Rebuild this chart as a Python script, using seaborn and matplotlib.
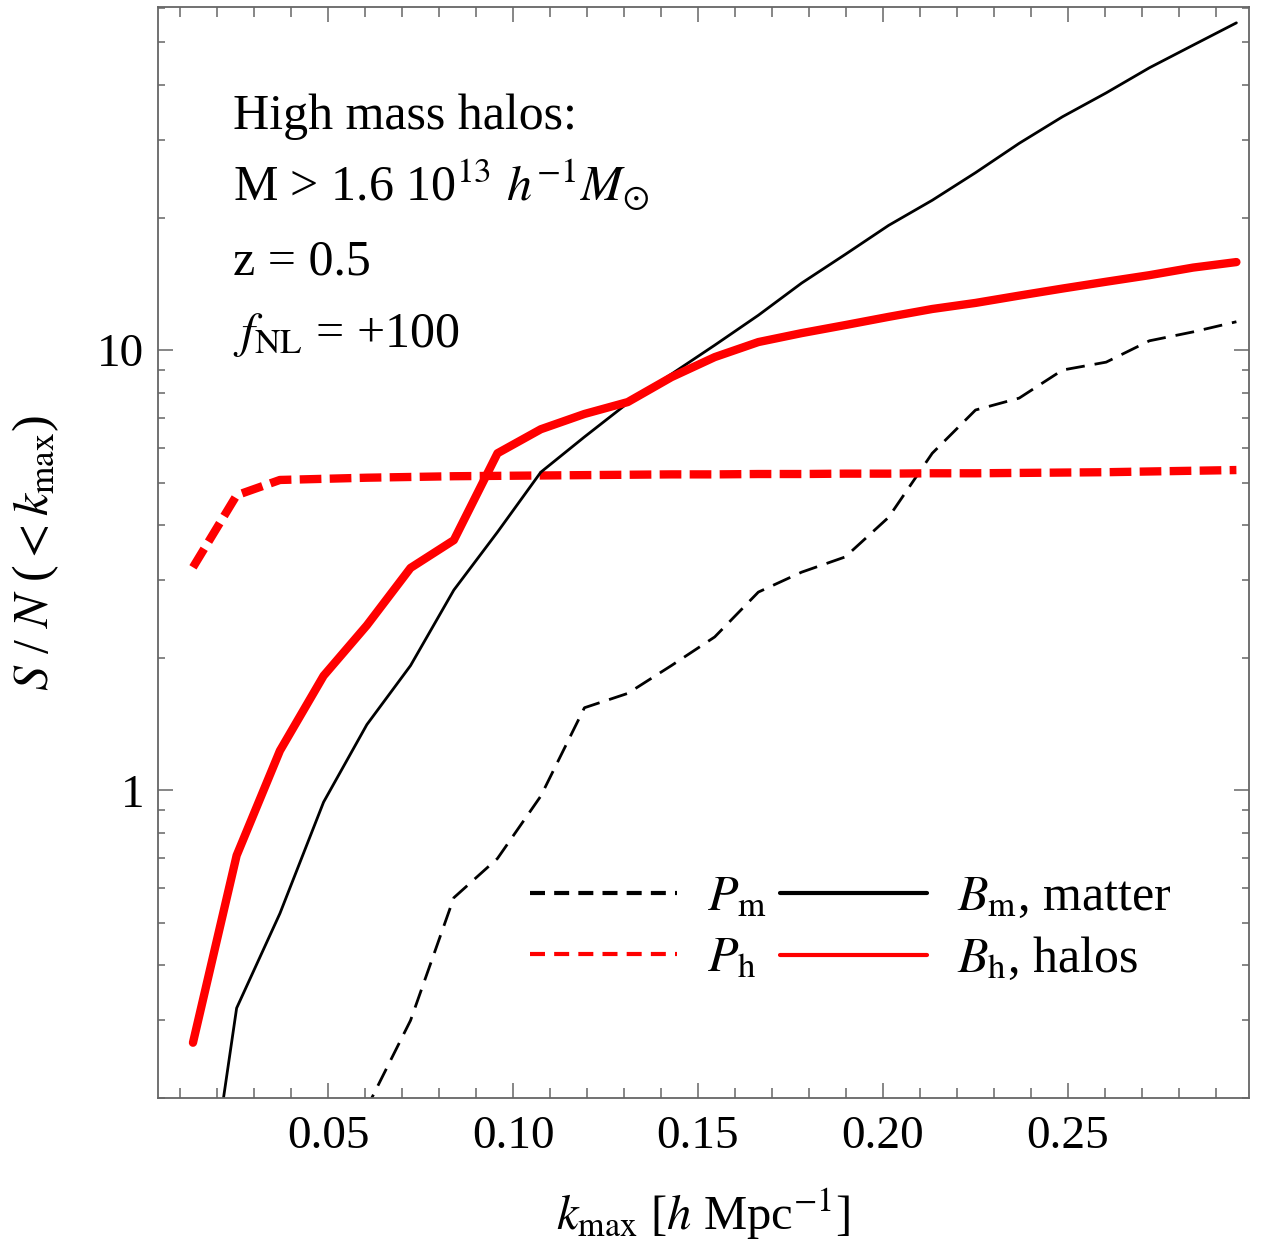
import matplotlib
matplotlib.use("Agg")
import matplotlib.pyplot as plt
import matplotlib.ticker as mticker
import numpy as np
import pandas as pd
import seaborn as sns

# k_max grid and S/N curves
k_max = [0.0135, 0.0253, 0.0370, 0.0488, 0.0605, 0.0723, 0.0840, 0.0958, 0.1075,
         0.1193, 0.1310, 0.1428, 0.1545, 0.1663, 0.1780, 0.1898, 0.2015, 0.2133,
         0.2250, 0.2368, 0.2485, 0.2603, 0.2720, 0.2838, 0.2955]
sn_Pm = [0.02, 0.04, 0.07, 0.11, 0.19, 0.30, 0.57, 0.70, 0.97, 1.54, 1.66, 1.92,
         2.23, 2.82, 3.13, 3.39, 4.17, 5.83, 7.31, 7.78, 9.01, 9.39, 10.5, 11.0, 11.6]
sn_Bm = [0.067, 0.32, 0.525, 0.94, 1.41, 1.92, 2.85, 3.86, 5.28, 6.35, 7.58, 8.82,
         10.26, 12.0, 14.2, 16.5, 19.2, 21.9, 25.3, 29.5, 33.9, 38.4, 43.8, 49.3, 55.4]
sn_Ph = [3.21, 4.68, 5.07, 5.10, 5.13, 5.15, 5.17, 5.18, 5.19, 5.20, 5.21, 5.22,
         5.22, 5.23, 5.23, 5.24, 5.24, 5.25, 5.25, 5.26, 5.27, 5.28, 5.30, 5.32, 5.34]
sn_Bh = [0.267, 0.711, 1.23, 1.82, 2.37, 3.20, 3.70, 5.83, 6.61, 7.16, 7.62, 8.68,
         9.64, 10.43, 10.93, 11.4, 11.9, 12.4, 12.8, 13.3, 13.8, 14.3, 14.8, 15.4, 15.85]

sns.set_style("ticks")
plt.rcParams['font.family'] = ['Liberation Serif', 'DejaVu Serif']
plt.rcParams['mathtext.fontset'] = 'stix'
plt.rcParams['text.color'] = 'black'
plt.rcParams['axes.labelcolor'] = 'black'
plt.rcParams['xtick.labelcolor'] = 'black'
plt.rcParams['ytick.labelcolor'] = 'black'

fig = plt.figure(figsize=(12.63, 12.43), dpi=100)
ax = fig.add_axes([0.1251, 0.1167, 0.8638, 0.8777])

df = pd.DataFrame({'k': k_max, 'Pm': sn_Pm, 'Bm': sn_Bm, 'Ph': sn_Ph, 'Bh': sn_Bh})

sns.lineplot(data=df, x='k', y='Pm', ax=ax, color='black', lw=2.0,
             label=r'$P_{\rm m}$')
sns.lineplot(data=df, x='k', y='Ph', ax=ax, color='#ff0000', lw=6.0,
             label=r'$P_{\rm h}$')
sns.lineplot(data=df, x='k', y='Bm', ax=ax, color='black', lw=2.0,
             label=r'$B_{\rm m}$, matter')
sns.lineplot(data=df, x='k', y='Bh', ax=ax, color='#ff0000', lw=6.0,
             label=r'$B_{\rm h}$, halos')
lines = ax.get_lines()
lines[0].set_dashes([6.8, 3.6])
lines[1].set_dashes([2.6, 1.0])

ax.set_yscale('log')
ax.set_xlim(0.00405, 0.2989)
ax.set_ylim(0.2, 60.2)

ax.xaxis.set_major_locator(mticker.MultipleLocator(0.05))
ax.xaxis.set_minor_locator(mticker.MultipleLocator(0.01))
ax.xaxis.set_major_formatter(mticker.FormatStrFormatter('%.2f'))
ax.yaxis.set_major_locator(mticker.FixedLocator([1, 10]))
ax.yaxis.set_major_formatter(mticker.FixedFormatter(['1', '10']))
ax.yaxis.set_minor_locator(mticker.LogLocator(base=10, subs=np.arange(2, 10)))
ax.yaxis.set_minor_formatter(mticker.NullFormatter())

gray = '#666666'
for s in ax.spines.values():
    s.set_color(gray)
    s.set_linewidth(1.3)
ax.tick_params(which='both', direction='in', top=True, right=True, color=gray,
               labelsize=34, width=1.1)
ax.tick_params(axis='x', which='major', length=11, pad=13)
ax.tick_params(axis='x', which='minor', length=7)
ax.tick_params(axis='y', which='major', length=11, pad=10)
ax.tick_params(axis='y', which='minor', length=5)

ax.set_xlabel(r'$k_{\rm max}$ [$h$ Mpc$^{-1}$]', fontsize=35, labelpad=20)
ax.set_ylabel(r'$S$ / $N$ ($<k_{\rm max}$)', fontsize=36, labelpad=26)

txt = ['High mass halos:',
       r'M > 1.6 10$^{13}$ $h^{-1}M_{\odot}$',
       'z = 0.5',
       r'$f_{\rm NL}$ = +100']
for i, t in enumerate(txt):
    ax.text(0.0689, 0.888 - i * 0.0665, t, transform=ax.transAxes,
            fontsize=36, va='baseline', ha='left')

h, l = ax.get_legend_handles_labels()
leg = ax.legend(h, l, ncol=2, loc='center', bbox_to_anchor=(0.635, 0.155),
                frameon=False, fontsize=36, handlelength=2.95, handletextpad=0.6,
                columnspacing=0.25, labelspacing=0.3, borderpad=0)
for j, ln in enumerate(leg.get_lines()):
    ln.set_linewidth(3.0)
    if j < 2:
        ln.set_dashes([3.6, 2.2])

fig.savefig('out.png', dpi=100)
